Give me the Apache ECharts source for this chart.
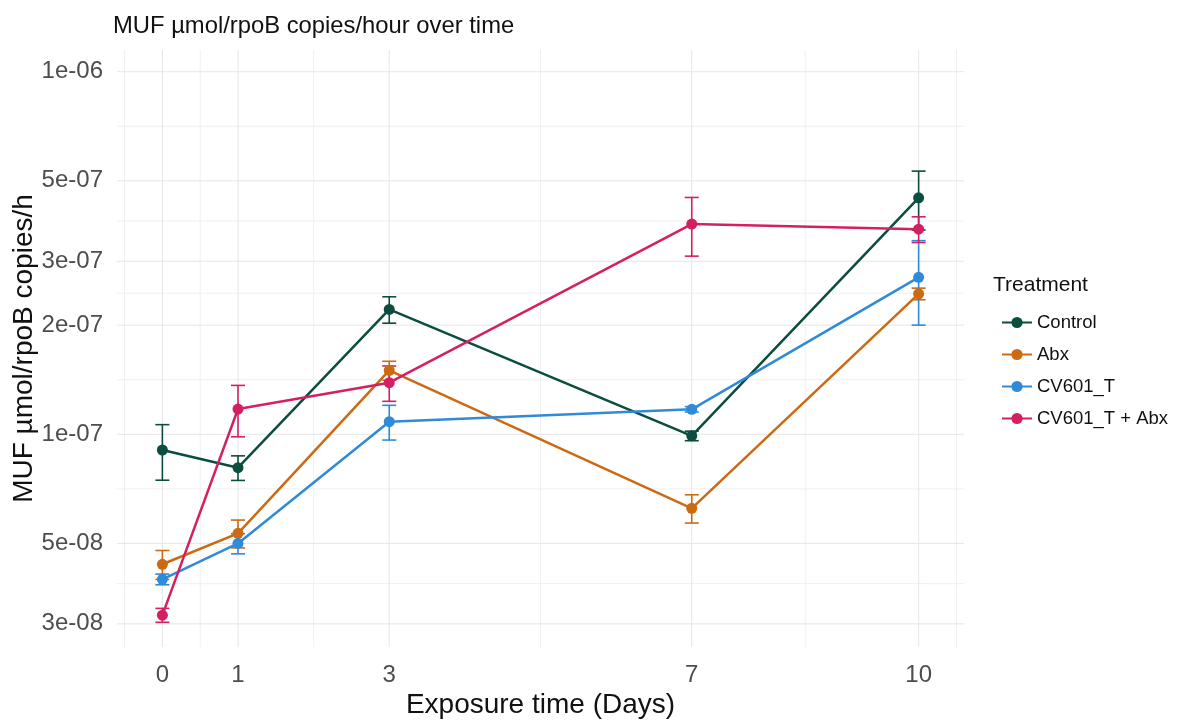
<!DOCTYPE html>
<html>
<head>
<meta charset="utf-8">
<title>MUF activity over time</title>
<script src="https://cdn.jsdelivr.net/npm/echarts@6/dist/echarts.min.js"></script>
<style>
  html, body { margin: 0; padding: 0; background: #ffffff; }
  #chart { width: 1193px; height: 720px; }
</style>
</head>
<body>
<div id="chart"></div>
<script>
// Sampling days
const days = [0, 1, 3, 7, 10];

// Mean MUF rate (µmol / rpoB copies / h) and standard error per treatment
const controlMean = [9.05e-8, 8.09e-8, 2.21e-7, 9.9e-8, 4.49e-7];
const controlSE   = [1.58e-8, 0.63e-8, 0.185e-7, 0.3e-8, 0.83e-7];
const abxMean     = [4.38e-8, 5.33e-8, 1.50e-7, 6.25e-8, 2.44e-7];
const abxSE       = [0.40e-8, 0.47e-8, 0.09e-7, 0.56e-8, 0.09e-7];
const cvMean      = [3.98e-8, 5.00e-8, 1.083e-7, 1.172e-7, 2.71e-7];
const cvSE        = [0.135e-8, 0.32e-8, 1.19e-8, 0.2e-8, 0.71e-7];
const cvAbxMean   = [3.17e-8, 1.174e-7, 1.388e-7, 3.80e-7, 3.68e-7];
const cvAbxSE     = [0.14e-8, 1.9e-8, 0.155e-7, 0.7e-7, 0.3e-7];

const treatments = ['Control', 'Abx', 'CV601_T', 'CV601_T + Abx'];
const means = [controlMean, abxMean, cvMean, cvAbxMean];
const errors = [controlSE, abxSE, cvSE, cvAbxSE];
const colors = ['#0b4d3e', '#cc6a14', '#2f8ad8', '#d41f63'];

// Axis breaks
const xBreaks = [0, 1, 3, 7, 10];
const xMinorBreaks = [-0.5, 0.5, 2, 5, 8.5, 10.5];
const yBreaks = [3e-8, 5e-8, 1e-7, 2e-7, 3e-7, 5e-7, 1e-6];
const yLabels = ['3e-08', '5e-08', '1e-07', '2e-07', '3e-07', '5e-07', '1e-06'];
// minor breaks sit halfway between majors on the log scale
const yMinorBreaks = yBreaks.slice(1).map((b, i) => Math.sqrt(b * yBreaks[i]));

const FONT = '"Liberation Sans", Arial, sans-serif';

const chart = echarts.init(document.getElementById('chart'), null, { renderer: 'canvas' });

// Panel grid: [x, y, orientation (0 vertical, 1 horizontal), minor flag]
const gridData = [
  ...xMinorBreaks.map(v => [v, 1e-7, 0, 1]),
  ...yMinorBreaks.map(v => [0, v, 1, 1]),
  ...xBreaks.map(v => [v, 1e-7, 0, 0]),
  ...yBreaks.map(v => [0, v, 1, 0])
];

const gridSeries = {
  type: 'custom',
  name: 'panel grid',
  silent: true,
  z: 0,
  encode: { x: 0, y: 1 },
  data: gridData,
  renderItem: function (params, api) {
    const cs = params.coordSys;
    const p = api.coord([api.value(0), api.value(1)]);
    const vertical = api.value(2) === 0;
    const minor = api.value(3) === 1;
    const shape = vertical
      ? { x1: p[0], y1: cs.y, x2: p[0], y2: cs.y + cs.height }
      : { x1: cs.x, y1: p[1], x2: cs.x + cs.width, y2: p[1] };
    return {
      type: 'line',
      shape: shape,
      style: { stroke: minor ? '#f0f0f0' : '#e6e6e6', lineWidth: 1 }
    };
  }
};

const errorSeries = treatments.map((name, k) => ({
  type: 'custom',
  name: name + ' SE',
  z: 3,
  silent: true,
  encode: { x: 0, y: 1 },
  data: days.map((d, i) => [d, means[k][i], errors[k][i]]),
  renderItem: function (params, api) {
    const x = api.value(0), m = api.value(1), s = api.value(2);
    const hi = api.coord([x, m + s]);
    const lo = api.coord([x, m - s]);
    const half = 7;
    const style = { stroke: colors[k], lineWidth: 1.6, fill: null };
    return {
      type: 'group',
      children: [
        { type: 'line', shape: { x1: hi[0], y1: hi[1], x2: lo[0], y2: lo[1] }, style },
        { type: 'line', shape: { x1: hi[0] - half, y1: hi[1], x2: hi[0] + half, y2: hi[1] }, style },
        { type: 'line', shape: { x1: lo[0] - half, y1: lo[1], x2: lo[0] + half, y2: lo[1] }, style }
      ]
    };
  }
}));

const lineSeries = treatments.map((name, k) => ({
  type: 'line',
  name: name,
  z: 4,
  data: days.map((d, i) => [d, means[k][i]]),
  symbol: 'circle',
  symbolSize: 11,
  showSymbol: true,
  lineStyle: { color: colors[k], width: 2.5 },
  itemStyle: { color: colors[k] },
  emphasis: { disabled: true }
}));

chart.setOption({
  animation: false,
  backgroundColor: '#ffffff',
  color: colors,
  title: [
    {
      text: 'MUF µmol/rpoB copies/hour over time',
      left: 108, top: 9,
      textStyle: { fontFamily: FONT, fontSize: 23.8, fontWeight: 'normal', color: '#111111' }
    },
    {
      text: 'Treatment',
      left: 988, top: 270,
      textStyle: { fontFamily: FONT, fontSize: 21, fontWeight: 'normal', color: '#111111' }
    }
  ],
  legend: {
    data: treatments,
    orient: 'vertical',
    left: 996, top: 308,
    itemWidth: 30, itemHeight: 14, itemGap: 13,
    textStyle: { fontFamily: FONT, fontSize: 18.5, color: '#111111', padding: [0, 0, 0, 0] },
    selectedMode: false
  },
  grid: { left: 117, right: 229, top: 50, bottom: 73, containLabel: false, outerBoundsMode: 'none' },
  xAxis: {
    type: 'value',
    min: -0.6, max: 10.6,
    name: 'Exposure time (Days)',
    nameLocation: 'middle',
    nameGap: 44,
    nameMoveOverlap: false,
    nameTextStyle: { fontFamily: FONT, fontSize: 28, color: '#111111' },
    axisLine: { show: false },
    axisTick: { show: false },
    splitLine: { show: false },
    axisLabel: {
      customValues: xBreaks,
      margin: 16,
      fontFamily: FONT, fontSize: 24, color: '#4d4d4d'
    }
  },
  yAxis: {
    type: 'log',
    logBase: 10,
    min: 2.59e-8, max: 1.148e-6,
    name: 'MUF µmol/rpoB copies/h',
    nameLocation: 'middle',
    nameGap: 79,
    nameMoveOverlap: false,
    nameTextStyle: { fontFamily: FONT, fontSize: 28, color: '#111111' },
    axisLine: { show: false },
    axisTick: { show: false },
    splitLine: { show: false },
    minorSplitLine: { show: false },
    axisLabel: {
      customValues: yBreaks,
      margin: 14,
      fontFamily: FONT, fontSize: 24, color: '#4d4d4d',
      formatter: function (v) {
        let best = 0, bestD = Infinity;
        yBreaks.forEach((b, i) => {
          const d = Math.abs(Math.log10(b) - Math.log10(v));
          if (d < bestD) { bestD = d; best = i; }
        });
        return yLabels[best];
      }
    }
  },
  series: [gridSeries, ...errorSeries, ...lineSeries]
});
</script>
</body>
</html>
